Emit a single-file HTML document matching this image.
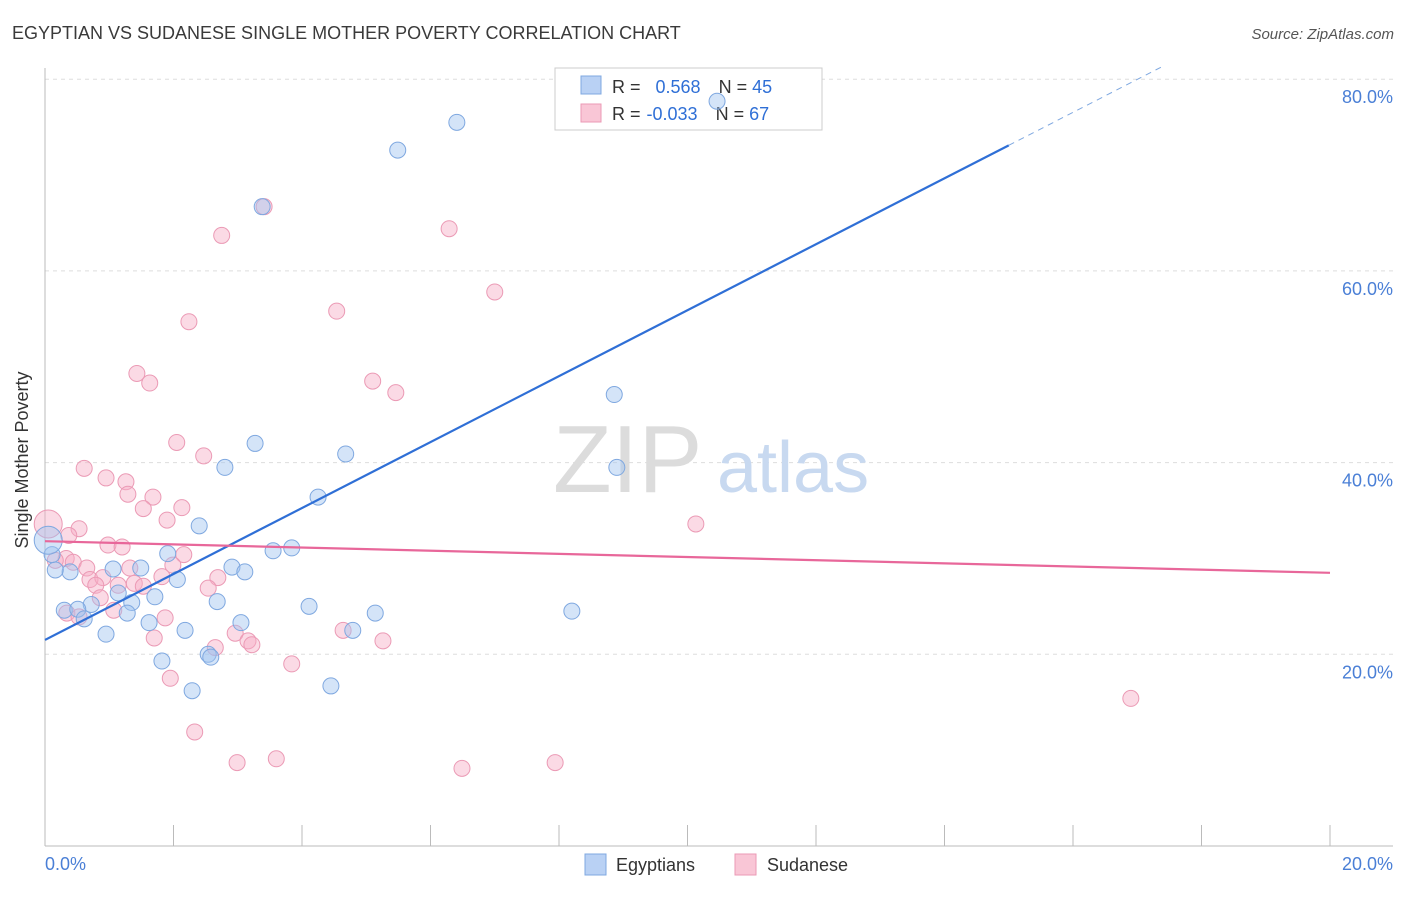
<!DOCTYPE html>
<html><head><meta charset="utf-8"><style>
body{margin:0;background:#fff;font-family:"Liberation Sans",sans-serif}
svg text{font-family:"Liberation Sans",sans-serif}
</style></head><body>
<svg width="1406" height="892" xmlns="http://www.w3.org/2000/svg">
<text x="12" y="39" font-size="18" fill="#3a3a3a">EGYPTIAN VS SUDANESE SINGLE MOTHER POVERTY CORRELATION CHART</text>
<text x="1394" y="39" font-size="15" fill="#555" text-anchor="end" font-style="italic">Source: ZipAtlas.com</text>
<g id="grid"></g>
<g><text x="553" y="492" font-size="96" font-family="Liberation Serif" fill="#dcdcdc">ZIP</text><text x="717" y="492" font-size="72" fill="#c8d9f0">atlas</text></g>
<line x1="45" y1="68" x2="45" y2="846" stroke="#bbb"/>
<line x1="45" y1="846" x2="1393" y2="846" stroke="#bbb"/>
<text x="24" y="456" font-size="18" fill="#333" text-anchor="middle" transform="rotate(-90 28 456)">Single Mother Poverty</text>
<text x="45" y="870" font-size="18" fill="#4a7fd6">0.0%</text>
<text x="1393" y="870" font-size="18" fill="#4a7fd6" text-anchor="end">20.0%</text>
<g>
<rect x="555" y="68" width="267" height="62" fill="#fff" stroke="#ccc"/>
<rect x="581" y="76" width="20" height="18" fill="#b9d1f4" stroke="#7fa8e0"/>
<rect x="581" y="104" width="20" height="18" fill="#f9c6d6" stroke="#eb9ab5"/>
<text x="612" y="93" font-size="18" fill="#333">R = <tspan fill="#2f6fd6" dx="10">0.568</tspan><tspan dx="18">N = </tspan><tspan fill="#2f6fd6">45</tspan></text>
<text x="612" y="120" font-size="18" fill="#333">R = <tspan fill="#2f6fd6" dx="1">-0.033</tspan><tspan dx="18">N = </tspan><tspan fill="#2f6fd6">67</tspan></text>
</g>
<g id="pts"></g>
<g id="lines"></g>
<g><rect x="585" y="854" width="21" height="21" fill="#b9d1f4" stroke="#7fa8e0"/><text x="616" y="871" font-size="18" fill="#333">Egyptians</text></g>
<g><rect x="735" y="854" width="21" height="21" fill="#f9c6d6" stroke="#eb9ab5"/><text x="767" y="871" font-size="18" fill="#333">Sudanese</text></g>
</svg>
<script>
const yTicks=[20,40,60,80];
const egX=[10.46,6.41,5.49,3.38,8.86,8.90,3.27,4.68,2.80,4.25,2.40,1.91,3.55,3.84,2.91,3.11,1.49,1.06,2.06,0.39,0.16,0.11,1.14,1.71,1.35,0.72,2.68,4.11,0.30,0.51,1.28,5.14,8.20,0.61,1.62,3.05,2.18,4.79,0.95,2.54,2.58,1.82,2.29,4.45,0.05];
const egY=[77.7,75.5,72.6,66.7,47.1,39.5,42.0,40.9,39.5,36.4,33.4,30.5,30.8,31.1,29.1,28.6,29.0,28.9,27.8,28.6,28.8,30.4,26.4,26.0,25.4,25.2,25.5,25.0,24.6,24.7,24.3,24.3,24.5,23.7,23.3,23.3,22.5,22.5,22.1,20.0,19.7,19.3,16.2,16.7,31.9];
const suX=[3.41,2.75,6.29,7.00,4.54,2.24,1.43,1.63,5.10,5.46,2.05,2.47,0.61,0.95,1.26,1.29,1.68,1.53,2.13,1.90,0.05,0.53,0.37,10.13,0.98,1.20,2.16,0.33,0.44,0.16,0.65,1.32,1.99,1.82,2.69,0.70,0.90,0.79,1.14,1.39,1.53,2.54,0.86,1.07,0.34,0.53,1.87,4.64,2.96,5.26,1.70,3.16,3.22,2.65,3.84,1.95,16.90,2.33,3.60,2.99,6.49,7.94];
const suY=[66.7,63.7,64.4,57.8,55.8,54.7,49.3,48.3,48.5,47.3,42.1,40.7,39.4,38.4,38.0,36.7,36.4,35.2,35.3,34.0,33.6,33.1,32.4,33.6,31.4,31.2,30.4,30.0,29.6,29.8,29.0,29.0,29.3,28.1,28.0,27.8,28.0,27.2,27.2,27.4,27.1,26.9,25.9,24.6,24.3,23.9,23.8,22.5,22.2,21.4,21.7,21.4,21.0,20.7,19.0,17.5,15.4,11.9,9.1,8.7,8.1,8.7];
const egTrend=[21.5,3.44];
const suTrend=[31.8,-0.165];
const X=v=>45+v/20*1285, Y=v=>846-v/20*191.7;
const NS="http://www.w3.org/2000/svg";
function mk(t,a,p){const e=document.createElementNS(NS,t);for(const k in a)e.setAttribute(k,a[k]);p.appendChild(e);return e;}
const grid=document.getElementById('grid');
yTicks.forEach(t=>{
 const l=mk('line',{x1:45,x2:1393,y1:Y(t),y2:Y(t),stroke:'#ddd','stroke-dasharray':'4,4'},grid);
 
 
 const tx=mk('text',{x:1393,y:Y(t)+24,'font-size':18,fill:'#4a7fd6','text-anchor':'end'},grid);
 tx.textContent=t.toFixed(1)+'%';
 
 
});
for(let i=0;i<=10;i++){
 const tk=mk('line',{x1:X(i*2),x2:X(i*2),y1:825,y2:846,stroke:'#bbb'},grid);
 
 
}
const pts=document.getElementById('pts');
suX.forEach((x,i)=>{
 const c=mk('circle',{cx:X(x),cy:Y(suY[i]),r:x<0.1?14:8,fill:'rgba(246,172,198,0.45)',stroke:'#eb9ab5','stroke-width':1},pts);
 
 
});
egX.forEach((x,i)=>{
 const c=mk('circle',{cx:X(x),cy:Y(egY[i]),r:x<0.1?14:8,fill:'rgba(160,195,240,0.45)',stroke:'#7fa8e0','stroke-width':1},pts);
 
 
});
const ln=document.getElementById('lines');
const f=(t,x)=>t[0]+t[1]*x;
const b1=mk('line',{x1:X(0),y1:Y(f(egTrend,0)),x2:X(15),y2:Y(f(egTrend,15)),stroke:'#2f6fd6','stroke-width':2.2},ln);


const b2=mk('line',{x1:X(15),y1:Y(f(egTrend,15)),x2:X(17.4),y2:Y(f(egTrend,17.4)),stroke:'#7fa8e0','stroke-width':1,'stroke-dasharray':'6,5'},ln);


const p1=mk('line',{x1:X(0),y1:Y(f(suTrend,0)),x2:X(20),y2:Y(f(suTrend,20)),stroke:'#e8679a','stroke-width':2.2},ln);


</script>
</body></html>
